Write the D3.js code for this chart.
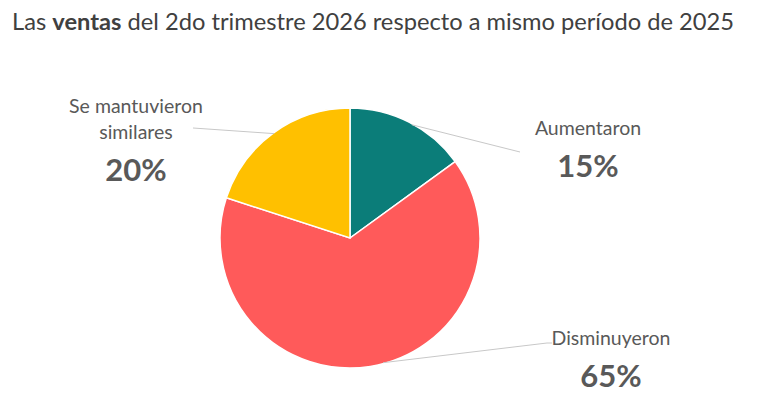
<!DOCTYPE html>
<html><head><meta charset="utf-8">
<script src="https://cdn.jsdelivr.net/npm/d3@7"></script>
<style>body{margin:0;background:#fff}svg{display:block}</style>
</head><body>
<svg id="c" width="768" height="405"></svg>
<script>
const categories = ["Aumentaron", "Disminuyeron", "Se mantuvieron similares"];
const values = [15, 65, 20];
const labelLines = [["Aumentaron"], ["Disminuyeron"], ["Se mantuvieron", "similares"]];
const colors = ["#0B7D79", "#FF5A5A", "#FFC000"];

const svg = d3.select("#c");
const font = "Lato, 'Open Sans', sans-serif";
const cx = 350, cy = 238, r = 130;

const title = svg.append("text").attr("x", 12).attr("y", 30)
  .attr("font-family", font).attr("font-size", 23.7).attr("fill", "#404040");
title.append("tspan").text("Las ");
title.append("tspan").attr("font-weight", "bold").text("ventas");
title.append("tspan").text(" del 2do trimestre 2026 respecto a mismo período de 2025");

const pie = d3.pie().sort(null).value(d => d)(values);
const arc = d3.arc().innerRadius(0).outerRadius(r);
const g = svg.append("g").attr("transform", `translate(${cx},${cy})`);
g.selectAll("path").data(pie).join("path")
  .attr("d", arc).attr("fill", (d, i) => colors[i])
  .attr("stroke", "#fff").attr("stroke-width", 1.5);

const labelPos = [
  {x: 588, y: 135, ly: [520, 152], lx2: null, f: 0.53},
  {x: 611, y: 345, ly: [547, 343], lx2: 552, f: 0.475},
  {x: 136, y: 113, ly: [193, 128], lx2: null, f: 0.5}
];
pie.forEach((d, i) => {
  const p = labelPos[i];
  const sa = d.startAngle + (d.endAngle - d.startAngle) * p.f;
  const ex = cx + Math.sin(sa) * (r - 1), ey = cy - Math.cos(sa) * (r - 1);
  const pts = [[ex, ey], p.ly];
  if (p.lx2) pts.push([p.lx2, p.ly[1]]);
  svg.append("path").attr("d", d3.line()(pts))
    .attr("fill", "none").attr("stroke", "#C8C8C8").attr("stroke-width", 1);
  const t = svg.append("text").attr("text-anchor", "middle")
    .attr("font-family", font).attr("fill", "#595959");
  labelLines[i].forEach((ln, k) => {
    t.append("tspan").attr("x", p.x).attr("y", p.y + k * 26).attr("font-size", 19.5).text(ln);
  });
  svg.append("text").attr("text-anchor", "middle").attr("x", p.x)
    .attr("y", p.y + (labelLines[i].length - 1) * 26 + 42)
    .attr("font-family", font).attr("font-weight", "bold").attr("font-size", 31)
    .attr("fill", "#595959").text(values[i] + "%");
});
</script>
</body></html>
